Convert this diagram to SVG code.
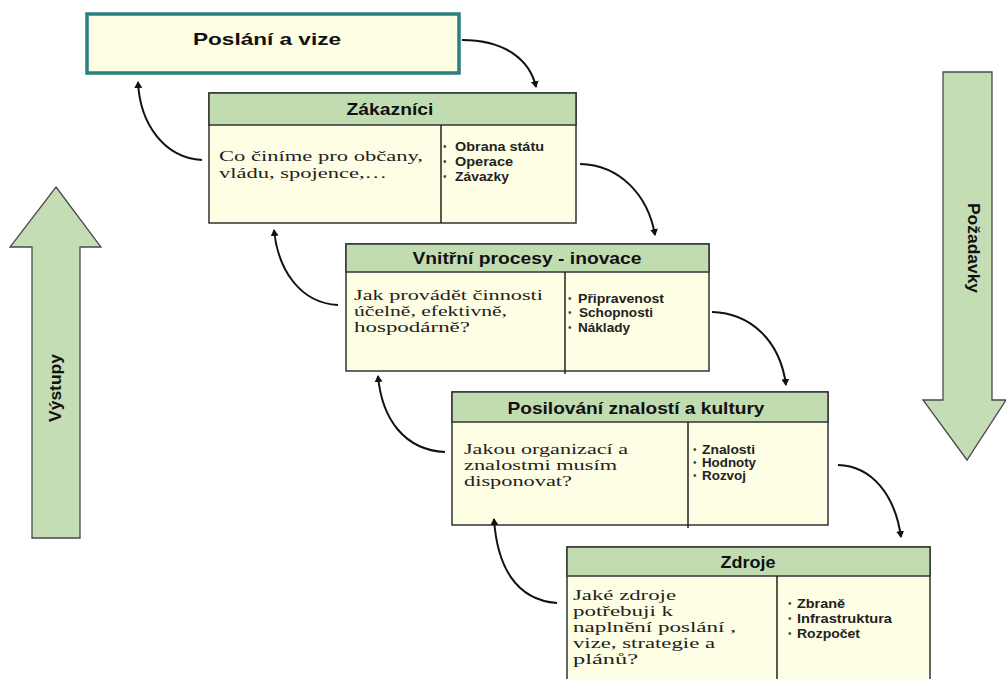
<svg xmlns="http://www.w3.org/2000/svg" width="1006" height="679" viewBox="0 0 1006 679">
<style>
.hdr{fill:#c2dcb2;stroke:#333;stroke-width:1.5}
.body{fill:#fefee4;stroke:#333;stroke-width:1.5}
.div{stroke:#222;stroke-width:1.5}
.ht{font-family:"Liberation Sans",Arial,sans-serif;font-weight:bold;font-size:17px;fill:#111;text-anchor:middle}
.bt{font-family:"Liberation Serif","Times New Roman",serif;font-size:15px;fill:#222}
.bl{font-family:"Liberation Sans",Arial,sans-serif;font-weight:bold;font-size:12px;fill:#222}
.dot{font-family:"Liberation Sans",Arial,sans-serif;font-size:10px;fill:#444}
.big{fill:#c4ddb4;stroke:#4a4a4a;stroke-width:1.3}
.con{fill:none;stroke:#111;stroke-width:2;marker-end:url(#ah)}
</style>
<defs>
<marker id="ah" markerWidth="10" markerHeight="10" refX="6" refY="4" orient="auto" markerUnits="userSpaceOnUse"><path d="M0,0 L7,4 L0,8 z" fill="#111"/></marker>
</defs>
<rect width="1006" height="679" fill="#fff"/>

<g id="vystupy">
<polygon class="big" points="56,187 101,247 80,247 80,538 32,538 32,247 10,247"/>
<text class="ht" font-size="18" transform="translate(61,388) rotate(-90)" textLength="68" lengthAdjust="spacingAndGlyphs">Výstupy</text>
</g>
<g id="pozadavky">
<polygon class="big" points="943,72 992,72 992,400 1006,400 967,460 923,400 943,400"/>
<text class="ht" font-size="18" transform="translate(968,248) rotate(90)" textLength="90" lengthAdjust="spacingAndGlyphs">Požadavky</text>
</g>

<g id="poslani">
<rect x="87" y="14" width="372" height="59" fill="#fefee4" stroke="#2a7f7f" stroke-width="3.5"/>
<text class="ht" x="267" y="45" font-size="19" textLength="148" lengthAdjust="spacingAndGlyphs">Poslání a vize</text>
</g>

<g id="zakaznici">
<rect class="body" x="209" y="93" width="367" height="130"/>
<rect class="hdr" x="209" y="93" width="367" height="32"/>
<line class="div" x1="441" y1="125" x2="441" y2="223"/>
<text class="ht" x="390" y="115" textLength="87" lengthAdjust="spacingAndGlyphs">Zákazníci</text>
<text class="bt"><tspan x="219" y="161" textLength="204" lengthAdjust="spacingAndGlyphs">Co činíme pro občany,</tspan><tspan x="219" y="178" textLength="168" lengthAdjust="spacingAndGlyphs">vládu, spojence,…</tspan></text>
<text class="dot"><tspan x="443" y="150">•</tspan><tspan x="443" y="165">•</tspan><tspan x="443" y="180">•</tspan></text>
<text class="bl"><tspan x="455" y="151" textLength="89" lengthAdjust="spacingAndGlyphs">Obrana státu</tspan><tspan x="455" y="166" textLength="58" lengthAdjust="spacingAndGlyphs">Operace</tspan><tspan x="455" y="181" textLength="54" lengthAdjust="spacingAndGlyphs">Závazky</tspan></text>
</g>

<g id="vnitrni">
<rect class="body" x="346" y="244" width="363" height="127"/>
<rect class="hdr" x="346" y="244" width="363" height="28"/>
<line class="div" x1="565" y1="272" x2="565" y2="374"/>
<text class="ht" x="527" y="264" textLength="229" lengthAdjust="spacingAndGlyphs">Vnitřní procesy - inovace</text>
<text class="bt"><tspan x="354" y="300" textLength="189" lengthAdjust="spacingAndGlyphs">Jak provádět činnosti</tspan><tspan x="354" y="316" textLength="153" lengthAdjust="spacingAndGlyphs">účelně, efektivně,</tspan><tspan x="354" y="332" textLength="116" lengthAdjust="spacingAndGlyphs">hospodárně?</tspan></text>
<text class="dot"><tspan x="568" y="302">•</tspan><tspan x="568" y="316">•</tspan><tspan x="568" y="331">•</tspan></text>
<text class="bl"><tspan x="578" y="303" textLength="86" lengthAdjust="spacingAndGlyphs">Připravenost</tspan><tspan x="579" y="317" textLength="74" lengthAdjust="spacingAndGlyphs">Schopnosti</tspan><tspan x="578" y="332" textLength="52" lengthAdjust="spacingAndGlyphs">Náklady</tspan></text>
</g>

<g id="posilovani">
<rect class="body" x="452" y="392" width="376" height="133"/>
<rect class="hdr" x="452" y="392" width="376" height="30"/>
<line class="div" x1="688" y1="422" x2="688" y2="528"/>
<text class="ht" x="636" y="414" textLength="257" lengthAdjust="spacingAndGlyphs">Posilování znalostí a kultury</text>
<text class="bt"><tspan x="464" y="454" textLength="164" lengthAdjust="spacingAndGlyphs">Jakou organizací a</tspan><tspan x="464" y="470" textLength="153" lengthAdjust="spacingAndGlyphs">znalostmi musím</tspan><tspan x="464" y="486" textLength="108" lengthAdjust="spacingAndGlyphs">disponovat?</tspan></text>
<text class="dot"><tspan x="693" y="453">•</tspan><tspan x="693" y="466">•</tspan><tspan x="693" y="479">•</tspan></text>
<text class="bl"><tspan x="702" y="454" textLength="53" lengthAdjust="spacingAndGlyphs">Znalosti</tspan><tspan x="702" y="467" textLength="54" lengthAdjust="spacingAndGlyphs">Hodnoty</tspan><tspan x="702" y="480" textLength="44" lengthAdjust="spacingAndGlyphs">Rozvoj</tspan></text>
</g>

<g id="zdroje">
<rect class="body" x="567" y="547" width="363" height="150"/>
<rect class="hdr" x="567" y="547" width="363" height="29"/>
<line class="div" x1="777" y1="576" x2="777" y2="679"/>
<text class="ht" x="748" y="568" textLength="55" lengthAdjust="spacingAndGlyphs">Zdroje</text>
<text class="bt"><tspan x="573" y="600" textLength="103" lengthAdjust="spacingAndGlyphs">Jaké zdroje</tspan><tspan x="573" y="616" textLength="100" lengthAdjust="spacingAndGlyphs">potřebuji k</tspan><tspan x="573" y="632" textLength="163" lengthAdjust="spacingAndGlyphs">naplnění poslání ,</tspan><tspan x="573" y="648" textLength="142" lengthAdjust="spacingAndGlyphs">vize, strategie a</tspan><tspan x="573" y="664" textLength="65" lengthAdjust="spacingAndGlyphs">plánů?</tspan></text>
<text class="dot"><tspan x="788" y="607">•</tspan><tspan x="788" y="622">•</tspan><tspan x="788" y="637">•</tspan></text>
<text class="bl"><tspan x="797" y="608" textLength="48" lengthAdjust="spacingAndGlyphs">Zbraně</tspan><tspan x="797" y="623" textLength="95" lengthAdjust="spacingAndGlyphs">Infrastruktura</tspan><tspan x="797" y="638" textLength="63" lengthAdjust="spacingAndGlyphs">Rozpočet</tspan></text>
</g>

<g id="connectors">
<path class="con" d="M462,40 C505,40 530,60 536,87"/>
<path class="con" d="M202,160 C165,158 140,125 138,82"/>
<path class="con" d="M580,164 C620,165 648,195 655,235"/>
<path class="con" d="M338,305 C300,303 278,270 274,230"/>
<path class="con" d="M712,312 C750,313 780,340 786,385"/>
<path class="con" d="M445,452 C405,450 382,420 378,376"/>
<path class="con" d="M838,465 C872,466 895,495 901,537"/>
<path class="con" d="M557,603 C515,600 497,565 494,519"/>
</g>
</svg>
